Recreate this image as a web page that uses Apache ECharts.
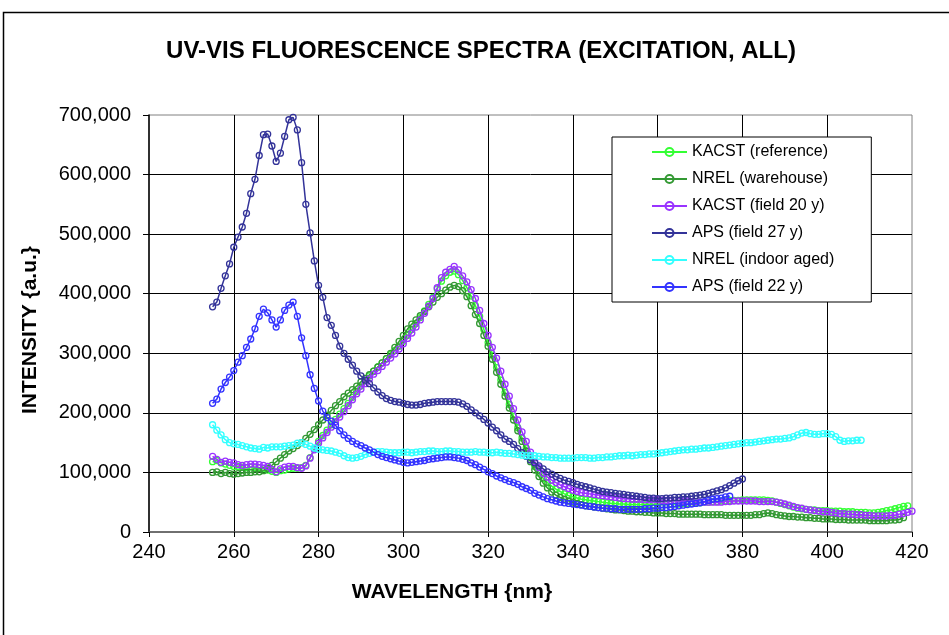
<!DOCTYPE html>
<html>
<head>
<meta charset="utf-8">
<script src="https://cdn.jsdelivr.net/npm/echarts@6/dist/echarts.min.js"></script>
<style>
html,body{margin:0;padding:0;background:#fff;}
#chart{width:949px;height:635px;}
</style>
</head>
<body>
<div id="chart"></div>
<script>
// Wavelength grid starts at 255 nm, 1 nm steps
const startNm = 255;
const xTicks = [240, 260, 280, 300, 320, 340, 360, 380, 400, 420];
const yTicks = [0, 100000, 200000, 300000, 400000, 500000, 600000, 700000];

const seriesNames = ["KACST (reference)", "NREL (warehouse)", "KACST (field 20 y)", "APS (field 27 y)", "NREL (indoor aged)", "APS (field 22 y)"];

const kacstRef = [118e3,120e3,116e3,114e3,112e3,110e3,110e3,109e3,108e3,109e3,108e3,108e3,106e3,104e3,102e3,100e3,103e3,104e3,106e3,107e3,107e3,108e3,112e3,125e3,140e3,152e3,162e3,171e3,180e3,189e3,198e3,207e3,216e3,226e3,236e3,245e3,254e3,262e3,270e3,277e3,284e3,291e3,298e3,305e3,312e3,320e3,330e3,340e3,350e3,360e3,371e3,382e3,394e3,408e3,421e3,430e3,436e3,438e3,432e3,422e3,410e3,396e3,380e3,362e3,340e3,318e3,297e3,276e3,255e3,234e3,214e3,194e3,175e3,158e3,141e3,125e3,110e3,99e3,90e3,83e3,77e3,72e3,68e3,64e3,61e3,59e3,57e3,55e3,54e3,53e3,52e3,51e3,50e3,49e3,48e3,48e3,47e3,47e3,46e3,46e3,46e3,46e3,46e3,46e3,46e3,46e3,46e3,46e3,47e3,47e3,47e3,48e3,48e3,48e3,49e3,49e3,50e3,50e3,51e3,51e3,52e3,52e3,53e3,53e3,53e3,54e3,54e3,54e3,54e3,54e3,54e3,53e3,52e3,50e3,48e3,46e3,44e3,42e3,40e3,39e3,38e3,37e3,37e3,36e3,36e3,36e3,35e3,35e3,35e3,34e3,34e3,34e3,33e3,33e3,33e3,32e3,32e3,33e3,34e3,36e3,37e3,39e3,41e3,43e3,44e3];

const nrelWarehouse = [100e3,101e3,98e3,100e3,98e3,97e3,98e3,99e3,100e3,100e3,101e3,101e3,103e3,107e3,112e3,118e3,124e3,130e3,136e3,140e3,145e3,150e3,157e3,164e3,172e3,180e3,188e3,196e3,204e3,212e3,219e3,227e3,233e3,239e3,245e3,252e3,258e3,264e3,270e3,277e3,284e3,291e3,300e3,310e3,320e3,330e3,341e3,349e3,356e3,363e3,370e3,378e3,386e3,394e3,400e3,406e3,411e3,414e3,412e3,405e3,395e3,380e3,365e3,350e3,330e3,312e3,290e3,268e3,248e3,228e3,208e3,188e3,170e3,152e3,136e3,118e3,104e3,93e3,82e3,74e3,67e3,62e3,58e3,55e3,52e3,50e3,48e3,46e3,44e3,43e3,42e3,41e3,40e3,39e3,38e3,37e3,37e3,36e3,35e3,35e3,34e3,34e3,33e3,33e3,32e3,32e3,32e3,31e3,31e3,31e3,30e3,30e3,30e3,30e3,30e3,30e3,29e3,29e3,29e3,29e3,29e3,28e3,28e3,28e3,28e3,28e3,28e3,28e3,29e3,29e3,31e3,32e3,31e3,29e3,28e3,27e3,26e3,26e3,25e3,25e3,24e3,24e3,23e3,23e3,22e3,22e3,22e3,21e3,21e3,21e3,20e3,20e3,20e3,20e3,20e3,19e3,19e3,19e3,19e3,19e3,20e3,20e3,21e3,24e3];

const kacstField20 = [127e3,122e3,117e3,119e3,117e3,116e3,113e3,112e3,113e3,114e3,114e3,113e3,112e3,110e3,105e3,101e3,106e3,109e3,110e3,110e3,108e3,107e3,111e3,124e3,138e3,149e3,158e3,167e3,176e3,185e3,193e3,202e3,212e3,222e3,232e3,240e3,249e3,257e3,265e3,271e3,278e3,285e3,292e3,299e3,307e3,316e3,325e3,334e3,344e3,356e3,367e3,379e3,392e3,410e3,427e3,436e3,441e3,446e3,440e3,430e3,420e3,407e3,392e3,372e3,350e3,330e3,310e3,292e3,270e3,248e3,228e3,207e3,188e3,168e3,152e3,134e3,118e3,108e3,98e3,92e3,87e3,83e3,79e3,76e3,73e3,70e3,68e3,66e3,65e3,64e3,63e3,62e3,61e3,60e3,59e3,58e3,57e3,56e3,56e3,55e3,55e3,55e3,54e3,54e3,54e3,54e3,53e3,53e3,53e3,53e3,52e3,52e3,52e3,51e3,51e3,50e3,50e3,50e3,50e3,50e3,50e3,51e3,51e3,52e3,52e3,52e3,52e3,52e3,52e3,51e3,51e3,51e3,51e3,50e3,49e3,47e3,45e3,43e3,41e3,40e3,38e3,37e3,36e3,35e3,34e3,34e3,33e3,32e3,31e3,31e3,30e3,30e3,29e3,29e3,28e3,28e3,27e3,27e3,27e3,27e3,28e3,28e3,30e3,31e3,33e3,35e3];

const apsField27 = [378e3,386e3,409e3,430e3,450e3,478e3,495e3,512e3,535e3,568e3,592e3,632e3,667e3,668e3,648e3,622e3,636e3,664e3,692e3,696e3,675e3,620e3,550e3,502e3,455e3,414e3,394e3,360e3,347e3,330e3,312e3,300e3,290e3,280e3,270e3,262e3,255e3,249e3,242e3,235e3,229e3,224e3,221e3,219e3,218e3,216e3,214e3,213e3,213e3,214e3,216e3,217e3,218e3,219e3,219e3,219e3,219e3,219e3,218e3,215e3,211e3,205e3,200e3,195e3,189e3,183e3,176e3,170e3,163e3,156e3,152e3,147e3,140e3,133e3,127e3,121e3,116e3,111e3,106e3,101e3,97e3,93e3,90e3,87e3,85e3,83e3,80e3,78e3,76e3,74e3,72e3,70e3,68e3,67e3,66e3,65e3,64e3,63e3,62e3,61e3,60e3,59e3,58e3,57e3,57e3,56e3,56e3,57e3,57e3,58e3,58e3,59e3,59e3,60e3,61e3,62e3,63e3,65e3,67e3,69e3,71e3,74e3,78e3,82e3,86e3,89e3];

const nrelIndoor = [180e3,171e3,163e3,155e3,150e3,148e3,147e3,145e3,143e3,141e3,140e3,139e3,142e3,141e3,143e3,143e3,143e3,144e3,145e3,146e3,149e3,150e3,147e3,144e3,141e3,139e3,138e3,137e3,136e3,134e3,132e3,128e3,125e3,124e3,125e3,127e3,130e3,132e3,134e3,135e3,135e3,134e3,133e3,133e3,133e3,134e3,134e3,133e3,134e3,135e3,135e3,136e3,136e3,135e3,135e3,136e3,136e3,135e3,135e3,134e3,134e3,134e3,135e3,134e3,134e3,133e3,133e3,134e3,133e3,132e3,132e3,131e3,130e3,129e3,128e3,128e3,128e3,127e3,126e3,126e3,125e3,125e3,124e3,124e3,124e3,124e3,125e3,125e3,125e3,124e3,124e3,125e3,125e3,126e3,126e3,127e3,128e3,128e3,129e3,128e3,129e3,130e3,130e3,131e3,131e3,132e3,133e3,134e3,135e3,136e3,137e3,138e3,138e3,139e3,139e3,140e3,141e3,141e3,142e3,143e3,144e3,145e3,146e3,147e3,148e3,149e3,150e3,150e3,151e3,152e3,153e3,154e3,155e3,156e3,156e3,157e3,158e3,160e3,163e3,166e3,167e3,165e3,164e3,164e3,165e3,165e3,164e3,160e3,154e3,152e3,153e3,153e3,154e3,154e3];

const apsField22 = [216e3,223e3,240e3,251e3,260e3,271e3,285e3,296e3,310e3,324e3,341e3,362e3,374e3,368e3,356e3,344e3,356e3,372e3,381e3,386e3,362e3,326e3,296e3,264e3,241e3,220e3,203e3,192e3,186e3,179e3,170e3,163e3,157e3,152e3,148e3,145e3,141e3,138e3,134e3,130e3,127e3,125e3,123e3,121e3,119e3,117e3,116e3,117e3,118e3,119e3,120e3,122e3,123e3,124e3,125e3,126e3,126e3,125e3,124e3,122e3,120e3,116e3,113e3,109e3,105e3,101e3,98e3,94e3,91e3,88e3,85e3,83e3,80e3,76e3,73e3,70e3,65e3,62e3,59e3,56e3,54e3,52e3,50e3,49e3,48e3,47e3,46e3,45e3,44e3,43e3,42e3,41e3,40e3,40e3,39e3,39e3,38e3,38e3,38e3,38e3,38e3,38e3,39e3,39e3,40e3,40e3,41e3,41e3,42e3,43e3,44e3,45e3,46e3,47e3,48e3,49e3,51e3,53e3,55e3,56e3,57e3,59e3,60e3];

const seriesValues = [kacstRef, nrelWarehouse, kacstField20, apsField27, nrelIndoor, apsField22];
const seriesColors = ["#33ff33", "#339933", "#9933ff", "#333399", "#33ffff", "#3333ff"];

const chart = echarts.init(document.getElementById('chart'), null, {renderer: 'canvas'});
const FONT = 'Liberation Sans, Arial, sans-serif';

const option = {
  animation: false,
  backgroundColor: '#ffffff',
  title: {
    text: 'UV-VIS FLUORESCENCE SPECTRA (EXCITATION, ALL)',
    left: 476, top: 34, textAlign: 'center',
    textStyle: {fontFamily: FONT, fontWeight: 'bold', fontSize: 24, color: '#000'}
  },
  graphic: [{
    type: 'rect', left: 1, top: 10, silent: true,
    shape: {width: 1000, height: 700},
    style: {fill: 'none', stroke: '#000', lineWidth: 1.5}
  }, {
    type: 'text', x: 452, y: 592, silent: true,
    style: {text: 'WAVELENGTH {nm}', align: 'center', verticalAlign: 'middle',
      font: 'bold 21px Liberation Sans, Arial, sans-serif', fill: '#000'}
  }, {
    type: 'text', x: 30, y: 330, rotation: Math.PI / 2, silent: true,
    style: {text: 'INTENSITY {a.u.}', align: 'center', verticalAlign: 'middle',
      font: 'bold 21px Liberation Sans, Arial, sans-serif', fill: '#000'}
  }],
  legend: {
    orient: 'vertical', left: 612, top: 137,
    padding: [7, 37, 7, 39],
    itemWidth: 35, itemHeight: 10, itemGap: 11,
    backgroundColor: '#fff', borderColor: '#000', borderWidth: 1,
    textStyle: {fontFamily: FONT, fontSize: 16, color: '#000'},
    data: seriesNames
  },
  grid: {
    left: 149, right: 37, top: 115, bottom: 103,
    show: true, borderColor: '#808080', borderWidth: 1, backgroundColor: 'transparent'
  },
  xAxis: {
    type: 'value', min: xTicks[0], max: xTicks[xTicks.length - 1], interval: 20,
    axisLine: {show: true, onZero: false, lineStyle: {color: '#555', width: 1.5}},
    axisTick: {show: true, inside: false, length: 5, lineStyle: {color: '#000'}},
    axisLabel: {fontFamily: FONT, fontSize: 20, color: '#000', margin: 10},
    splitLine: {show: true, showMinLine: false, showMaxLine: false, lineStyle: {color: '#000', width: 1}}
  },
  yAxis: {
    type: 'value', min: yTicks[0], max: yTicks[yTicks.length - 1], interval: 100000,
    axisLine: {show: true, lineStyle: {color: '#000', width: 1.5}},
    axisTick: {show: true, inside: false, length: 6, lineStyle: {color: '#000'}},
    axisLabel: {
      fontFamily: FONT, fontSize: 20, color: '#000', margin: 18,
      formatter: v => v.toLocaleString('en-US')
    },
    splitLine: {show: true, showMinLine: false, showMaxLine: false, lineStyle: {color: '#000', width: 1}}
  },
  series: seriesNames.map((name, k) => ({
    name: name,
    type: 'line',
    data: seriesValues[k].map((v, i) => [startNm + i, v]),
    symbol: 'circle',
    symbolSize: 6,
    showAllSymbol: true,
    color: seriesColors[k],
    lineStyle: {color: seriesColors[k], width: 1.5},
    itemStyle: {color: 'rgba(255,255,255,0)', borderColor: seriesColors[k], borderWidth: 1.3},
    z: 2 + k
  }))
};
chart.setOption(option);
</script>
</body>
</html>
